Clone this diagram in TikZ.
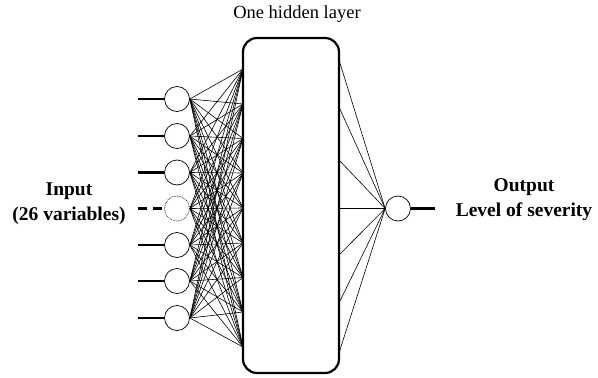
\documentclass[tikz,border=0pt]{standalone}
\usepackage{fontspec}
\setmainfont{Liberation Serif}
\begin{document}
\begin{tikzpicture}[x=1pt,y=-1pt,
  unit/.style={circle,draw,line width=0.7pt,minimum size=25pt,inner sep=0pt},
  dunit/.style={unit,densely dotted},
  feed/.style={line width=2.2pt},
  link/.style={line width=0.6pt},
  layerbox/.style={draw,line width=2.2pt,rounded corners=14pt},
  label/.style={font=\fontsize{19.5}{25}\selectfont\bfseries,align=center},
  title/.style={font=\fontsize{18.5}{21}\selectfont}]
\useasboundingbox (0,0) rectangle (598,378);

% hidden layer
\draw[layerbox] (243,38) rectangle (339,373);
\node[title] (ttl) at (297,14) {One hidden layer};

% attachment points on the hidden layer
\foreach \k/\y in {1/69,2/104,3/138.5,4/173,5/208,6/243,7/277.5,8/312,9/347}
  \coordinate (h\k) at (243,\y);
\foreach \k/\y in {1/60,2/107,3/160,4/208.5,5/255,6/303,7/353}
  \coordinate (r\k) at (339,\y);

% input units
\foreach \k/\y in {1/99,2/136,3/172.5,5/245,6/281,7/318} {
  \node[unit] (i\k) at (177,\y) {};
  \coordinate (s\k) at (138,\y);
  \draw[feed] (s\k) -- (i\k.west);
}
\node[dunit] (i4) at (177,208.5) {};
\coordinate (s4) at (138,208.5);
\draw[feed,dash pattern=on 9pt off 6pt] (s4) -- (i4.west);

% input-to-hidden links
\foreach \a in {1,...,7}
  \foreach \b in {1,...,9}
    \draw[link] (i\a.east) -- (h\b);

% output unit
\node[unit] (o) at (398,208.5) {};
\coordinate (oe) at (435,208.5);
\draw[feed] (o.east) -- (oe);
\foreach \b in {1,...,7}
  \draw[link] (r\b) -- (o.west);

% labels
\node[label] (inl) at (69,203.5) {Input\\(26 variables)};
\node[label] (outl) at (524,199.5) {Output\\Level of severity};
\end{tikzpicture}
\end{document}
